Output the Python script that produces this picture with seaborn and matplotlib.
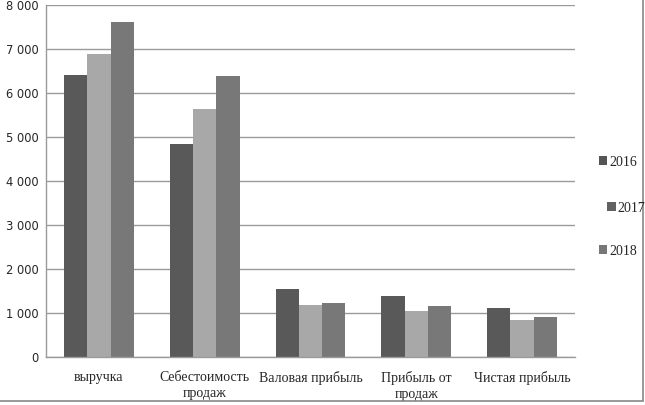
import numpy as np
import pandas as pd
import seaborn as sns
import matplotlib.pyplot as plt
from matplotlib.patches import Rectangle
from matplotlib.lines import Line2D
from matplotlib.ticker import FuncFormatter, FixedLocator

# Data
categories = ['выручка', 'Себестоимость\nпродаж', 'Валовая прибыль',
              'Прибыль от\nпродаж', 'Чистая прибыль']
years = ['2016', '2017', '2018']
values_2016 = [6420, 4850, 1550, 1390, 1110]
values_2017 = [6880, 5630, 1190, 1050, 830]
values_2018 = [7610, 6380, 1230, 1160, 910]

bar_colors = {'2016': '#595959', '2017': '#a8a8a8', '2018': '#787878'}
legend_colors = {'2016': '#555555', '2017': '#616161', '2018': '#777777'}

df = pd.DataFrame({
    'category': categories * 3,
    'year': sum([[y] * len(categories) for y in years], []),
    'value': values_2016 + values_2017 + values_2018,
})

sns.set_style('white')
plt.rcParams['font.family'] = ['DejaVu Sans']

fig = plt.figure(figsize=(6.45, 4.05), dpi=100)
ax = fig.add_axes([46 / 645, 48 / 405, 529 / 645, 352 / 405])

sns.barplot(data=df, x='category', y='value', hue='year', order=categories,
            hue_order=years, palette=bar_colors, width=0.66, saturation=1,
            edgecolor='none', linewidth=0, legend=False, ax=ax)

ax.set_ylim(0, 8000)
ax.set_xlim(-0.5, len(categories) - 0.5)
ax.set_yticks(np.arange(0, 8001, 1000))
ax.yaxis.set_major_formatter(FuncFormatter(lambda v, p: f'{int(v):,}'.replace(',', ' ')))
ax.yaxis.grid(True, color='#9a9a9a', linewidth=1)
ax.set_axisbelow(True)
ax.set_xlabel('')
ax.set_ylabel('')

for s in ['top', 'right']:
    ax.spines[s].set_visible(False)
for s in ['left', 'bottom']:
    ax.spines[s].set_color('#9a9a9a')
    ax.spines[s].set_linewidth(1)

ax.tick_params(axis='y', length=0, labelsize=8.3, pad=5.5)
ax.tick_params(axis='x', which='major', length=0, pad=10)
ax.xaxis.set_minor_locator(FixedLocator(np.arange(-0.5, len(categories), 1)))
ax.tick_params(axis='x', which='minor', length=5, color='#9a9a9a')
for lbl in ax.get_xticklabels():
    lbl.set_family('Liberation Serif')
    lbl.set_fontsize(10)
    lbl.set_horizontalalignment('center')
    lbl.set_multialignment('center')
    lbl.set_linespacing(1.3)

# legend, entries placed individually as in the reference
legend_pos = {'2016': (0.918, 0.60), '2017': (0.931, 0.486), '2018': (0.918, 0.38)}
for y in years:
    h = [Rectangle((0, 0), 1, 1, facecolor=legend_colors[y], edgecolor='none')]
    leg = fig.legend(h, [y], loc='center left', bbox_to_anchor=legend_pos[y],
                     frameon=False, handlelength=0.6, handleheight=0.6,
                     handletextpad=0.15, borderpad=0,
                     prop={'family': 'Liberation Serif', 'size': 10})

# outer border
fig.add_artist(Line2D([0.997, 0.997], [0.01, 1], transform=fig.transFigure,
                      color='#888888', linewidth=1.2))
fig.add_artist(Line2D([0, 0.997], [0.01, 0.01], transform=fig.transFigure,
                      color='#888888', linewidth=1.2))

fig.savefig('out.png', dpi=100)
